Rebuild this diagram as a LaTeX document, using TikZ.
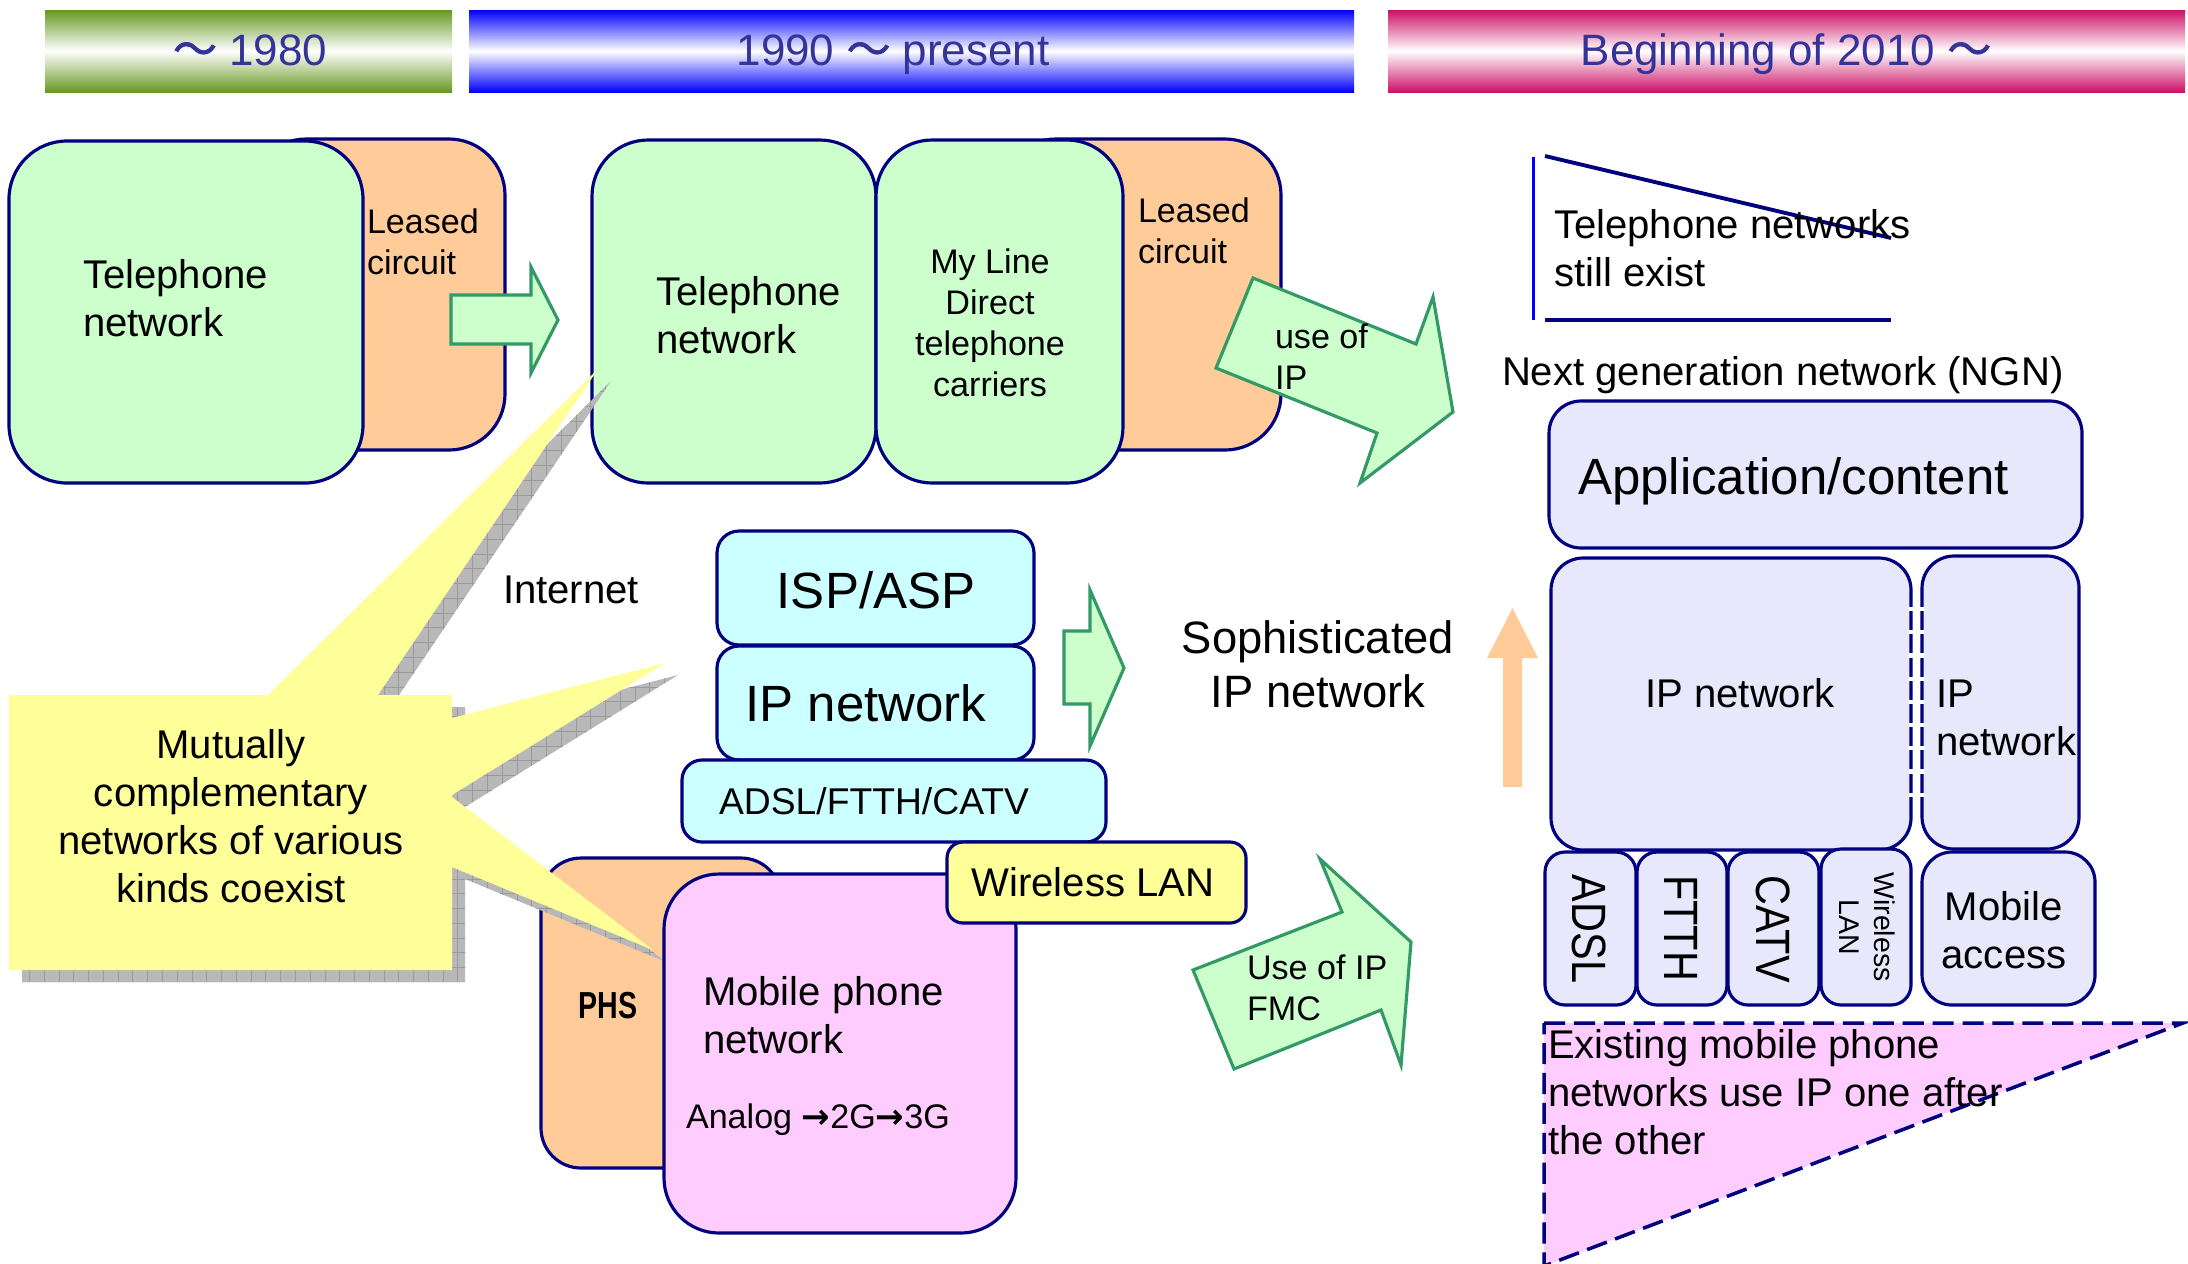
\documentclass[tikz,border=0pt]{standalone}
\usepackage{fontspec}
\setmainfont{Liberation Sans}
\newfontfamily\cjkfont{Noto Sans CJK JP}[FakeBold=1.5]
\newfontfamily\symbfont{DejaVu Sans}
\usetikzlibrary{fit,patterns.meta}
\definecolor{navy}{HTML}{000080}
\definecolor{lgrn}{HTML}{CCFFCC}
\definecolor{orng}{HTML}{FFCC99}
\definecolor{cyn}{HTML}{CCFFFF}
\definecolor{lav}{HTML}{E8E8FC}
\definecolor{pnk}{HTML}{FFCCFF}
\definecolor{ylw}{HTML}{FFFF99}
\definecolor{agrn}{HTML}{339966}
\definecolor{bartext}{HTML}{333399}
\definecolor{barolive}{HTML}{669922}
\definecolor{barblue}{HTML}{0000FF}
\definecolor{barred}{HTML}{CC1166}
\definecolor{shgray}{HTML}{B8B8B8}
\newcommand\ml[2]{\begin{tabular}[t]{@{}#1@{}}#2\end{tabular}}
\newcommand\ftA{\fontsize{11.4pt}{13.7pt}\selectfont}
\newcommand\ftB{\fontsize{9.7pt}{11.7pt}\selectfont}
\newcommand\ftC{\fontsize{14.5pt}{17pt}\selectfont}
\newcommand\ftD{\fontsize{12.5pt}{15pt}\selectfont}
\newcommand\ftE{\fontsize{12.9pt}{15.4pt}\selectfont}
\newcommand\ftF{\fontsize{10.6pt}{12.7pt}\selectfont}
\newcommand\ftG{\fontsize{13.7pt}{16pt}\selectfont}
\newcommand\ftH{\fontsize{8.1pt}{10pt}\selectfont}
\newcommand\ftP{\fontsize{10.7pt}{12.8pt}\selectfont\bfseries}
\newcommand\wave{{\cjkfont 〜}}
\newcommand\rarr{{\symbfont\bfseries →}}
\begin{document}
\begin{tikzpicture}[x=0.01cm, y=-0.01cm,
  rbox/.style={draw=navy, line width=0.9pt, rounded corners=#1, inner sep=0pt, outer sep=0pt, rectangle},
  rbox/.default=0.56cm,
  bar/.style={draw=none, inner sep=0pt, outer sep=0pt, rectangle},
  bartxt/.style={inner sep=0pt, font=\ftD, text=bartext, anchor=base},
  txt/.style={inner sep=0pt, outer sep=0pt},
  garrow/.style={fill=lgrn, draw=agrn, line width=0.9pt, line join=miter},
  callout/.style={fill=ylw, draw=none},
  calloutshadow/.style={fill=shgray, draw=none,
     postaction={pattern={Hatch[distance=4.2pt, line width=0.25pt]}, pattern color=gray!80}},
  thinline/.style={navy, line width=1.1pt}]
\useasboundingbox (0,0) rectangle (2188,1263);

% ---------- header bars ----------
\node[bar, top color=barolive, bottom color=barolive, middle color=white, fit={(45,10) (452,92)}] (bar1) {};
\node[bartxt] (bar1t) at (250,65) {\wave\ 1980};
\node[bar, top color=barblue, bottom color=barblue, middle color=white, fit={(469,10) (1354,92)}] (bar2) {};
\node[bartxt] (bar2t) at (893,65) {1990 \wave\ present};
\node[bar, top color=barred, bottom color=barred, middle color=white, fit={(1388,10) (2185,92)}] (bar3) {};
\node[bartxt] (bar3t) at (1786,65) {Beginning of 2010 \wave};

% ---------- ~1980 ----------
\node[rbox, fill=orng, fit={(250,139) (505,450)}] (lc1) {};
\node[rbox=0.58cm, fill=lgrn, fit={(9,141) (363,483)}] (tel1) {};
\node[txt, font=\ftB, anchor=base west] (lc1t) at (367,233) {\ml{l}{Leased\\circuit}};
\node[txt, font=\ftA, anchor=base west] (tel1t) at (83,288) {\ml{l}{Telephone\\network}};
\draw[garrow] (451,295) -- (531,295) -- (531,267) -- (558,320) -- (531,373) -- (531,344) -- (451,344) -- cycle;

% ---------- 1990 ~ present, fixed ----------
\node[rbox, fill=orng, fit={(1000,139) (1281,450)}] (lc2) {};
\node[rbox, fill=lgrn, fit={(592,140) (876,483)}] (tel2) {};
\node[rbox, fill=lgrn, fit={(876,140) (1123,483)}] (myl) {};
\node[txt, font=\ftA, anchor=base west] (tel2t) at (656,305) {\ml{l}{Telephone\\network}};
\node[txt, font=\ftB, anchor=base] (mylt) at (990,273) {\ml{c}{My Line\\Direct\\telephone\\carriers}};
\node[txt, font=\ftB, anchor=base west] (lc2t) at (1138,222) {\ml{l}{Leased\\circuit}};
\draw[garrow] (1253,278) -- (1416,344) -- (1433,297) -- (1453,412) -- (1360,483) -- (1377,433) -- (1216,368) -- cycle;
\node[txt, font=\ftB, anchor=base west] (useip) at (1275,348) {\ml{l}{use of\\IP}};

% ---------- right top ----------
\coordinate (vlA) at (1533,157); \coordinate (vlB) at (1533,320);
\coordinate (dgA) at (1545,156); \coordinate (dgB) at (1891,238);
\coordinate (hzA) at (1545,320); \coordinate (hzB) at (1891,320);
\draw[blue, line width=0.85pt] (vlA) -- (vlB);
\draw[thinline] (dgA) -- (dgB);
\draw[thinline] (hzA) -- (hzB);
\node[txt, font=\ftA, anchor=base west] (still) at (1554,238) {\ml{l}{Telephone networks\\still exist}};
\node[txt, font=\ftA, anchor=base west] (ngn) at (1502,385) {Next generation network (NGN)};

% ---------- NGN stack ----------
\node[rbox=0.32cm, fill=lav, fit={(1549,401) (2082,548)}] (app) {};
\node[txt, font=\ftC, anchor=base west] (appt) at (1578,494) {Application/content};
\node[rbox=0.32cm, fill=lav, fit={(1551,558) (1911,850)}] (ipbig) {};
\node[txt, font=\ftA, anchor=base] (ipbigt) at (1740,707) {IP network};
\node[rbox=0.32cm, fill=lav, fit={(1922,556) (2079,849)}] (ipsm) {};
\node[txt, font=\ftA, anchor=base west] (ipsmt) at (1936,707) {\ml{l}{IP\\network}};
\draw[white, line width=1.3pt, dash pattern=on 1.2pt off 5.4pt] (1911,607) -- (1911,807);
\draw[white, line width=1.3pt, dash pattern=on 1.2pt off 5.4pt] (1922,607) -- (1922,807);
\fill[orng] (1503,787) -- (1503,658) -- (1487,658) -- (1512.5,608) -- (1538,658) -- (1522,658) -- (1522,787) -- cycle;

\node[rbox=0.2cm, fill=lav, fit={(1545,852) (1636,1005)}] (adsl) {};
\node[rbox=0.2cm, fill=lav, fit={(1637,852) (1727,1005)}] (ftth) {};
\node[rbox=0.2cm, fill=lav, fit={(1728,852) (1819,1005)}] (catv) {};
\node[rbox=0.2cm, fill=lav, fit={(1821,849) (1911,1005)}] (wl) {};
\node[rbox=0.3cm, fill=lav, fit={(1922,852) (2095,1005)}] (mobacc) {};
\node[txt, font=\ftG, rotate=-90] (adslt) at (1589,929) {\scalebox{0.86}[1]{ADSL}};
\node[txt, font=\ftG, rotate=-90] (ftth) at (1681,928) {\scalebox{0.86}[1]{FTTH}};
\node[txt, font=\ftG, rotate=-90] (catvt) at (1773,929) {\scalebox{0.86}[1]{CATV}};
\node[txt, font=\ftH, rotate=-90] (wlt) at (1864,927) {\ml{c}{Wireless\\LAN}};
\node[txt, font=\ftA, anchor=base] (mobacct) at (2004,920) {\ml{c}{Mobile\\access}};

\draw[navy, line width=1pt, dash pattern=on 6pt off 2.5pt, fill=pnk] (1544,1023) -- (2183,1023) -- (1544,1266) -- cycle;
\node[txt, font=\ftA, anchor=base west] (exist) at (1548,1058) {\ml{l}{Existing mobile phone\\networks use IP one after\\the other}};

% ---------- internet ----------
\node[txt, font=\ftA, anchor=base west] (inet) at (503,603) {Internet};
\node[rbox=0.22cm, fill=cyn, fit={(717,531) (1034,645)}] (isp) {};
\node[txt, font=\ftC, anchor=base] (ispt) at (876,608) {ISP/ASP};
\node[rbox=0.22cm, fill=cyn, fit={(717,646) (1034,760)}] (ipn) {};
\node[txt, font=\ftC, anchor=base] (ipnt) at (866,721) {IP network};
\node[rbox=0.2cm, fill=cyn, fit={(682,760) (1106,842)}] (acc) {};
\node[txt, font=\ftF, anchor=base] (acct) at (874,814) {ADSL/FTTH/CATV};
\draw[garrow] (1064,631) -- (1090,631) -- (1090,590) -- (1124,668) -- (1090,746) -- (1090,704) -- (1064,704) -- cycle;
\node[txt, font=\ftE, anchor=base] (soph) at (1318,653) {\ml{c}{Sophisticated\\IP network}};

% ---------- mobile ----------
\node[rbox=0.4cm, fill=orng, fit={(541,858) (781,1168)}] (phs) {};
\node[txt, font=\ftP, anchor=base] (phst) at (608,1018) {\scalebox{0.76}[1]{PHS}};

% ---------- callout ----------
\begin{scope}[shift={(13,12)}]
\path[calloutshadow] (9,695) -- (268,695) -- (598,369) -- (378,695) -- (452,695) -- (452,718) -- (665,663) -- (452,795) -- (452,797) -- (653,950) -- (452,867) -- (452,970) -- (9,970) -- cycle;
\end{scope}
\path[callout] (9,695) -- (268,695) -- (598,369) -- (378,695) -- (452,695) -- (452,718) -- (665,663) -- (452,795) -- (452,797) -- (653,950) -- (452,867) -- (452,970) -- (9,970) -- cycle;
\node[txt, font=\ftA, anchor=base] (mutual) at (231,758) {\ml{c}{Mutually\\complementary\\networks of various\\kinds coexist}};

\node[rbox=0.55cm, fill=pnk, fit={(664,874) (1016,1233)}] (mob) {};
\node[txt, font=\ftA, anchor=base west] (mobt) at (703,1005) {\ml{l}{Mobile phone\\network}};
\node[txt, font=\ftB, anchor=base west] (analog) at (686,1128) {Analog \rarr2G\rarr3G};
\node[rbox=0.16cm, fill=ylw, fit={(947,842) (1246,923)}] (wlan) {};
\node[txt, font=\ftA, anchor=base] (wlant) at (1093,896) {Wireless LAN};

\draw[garrow] (1193,970) -- (1342,912) -- (1320,859) -- (1411,942) -- (1401,1065) -- (1381,1010) -- (1234,1069) -- cycle;
\node[txt, font=\ftB, anchor=base west] (fmc) at (1247,979) {\ml{l}{Use of IP\\FMC}};
\end{tikzpicture}
\end{document}
